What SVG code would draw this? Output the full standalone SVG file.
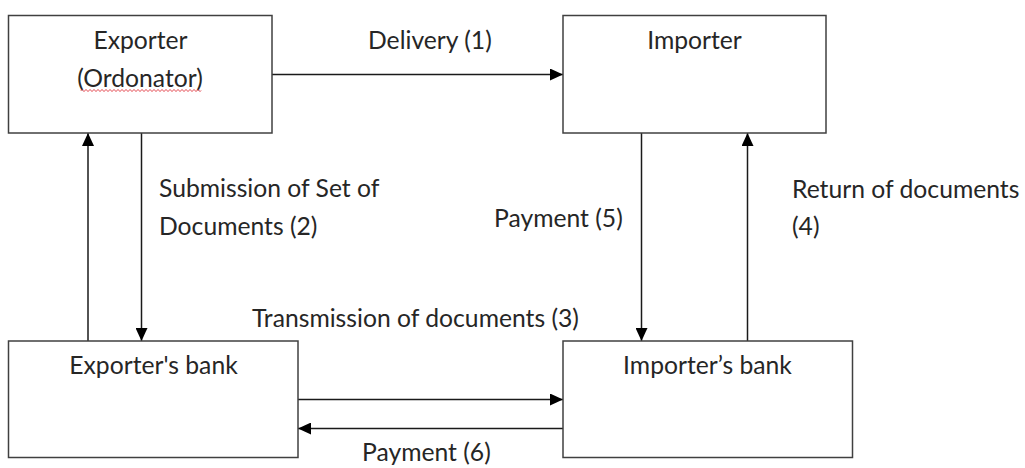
<svg xmlns="http://www.w3.org/2000/svg" width="1025" height="468" viewBox="0 0 1025 468">
<defs>
<style>
.box{fill:#fff;stroke:#404040;stroke-width:1.5}
.lbl{font-family:Lato,"Open Sans","Liberation Sans",sans-serif;font-size:24.7px;fill:#262626}
.mid{text-anchor:middle}
.conn{fill:none;stroke:#1a1a1a;stroke-width:1.5;marker-end:url(#arr)}
</style>
<marker id="arr" viewBox="0 0 13 12" refX="13" refY="6" markerWidth="13" markerHeight="12" markerUnits="userSpaceOnUse" orient="auto">
<path d="M0,0 L13,6 L0,12 z" fill="#000"/>
</marker>
</defs>
<rect width="1025" height="468" fill="#fff"/>
<g id="connectors">
<path class="conn" d="M272,74.5 H563"/>
<path class="conn" d="M88,341 V133"/>
<path class="conn" d="M141.5,133 V341"/>
<path class="conn" d="M641.5,133 V341"/>
<path class="conn" d="M747.5,341 V133"/>
<path class="conn" d="M298,399.5 H563"/>
<path class="conn" d="M563,428.5 H298"/>
<text class="lbl" x="368" y="49">Delivery (1)</text>
<text class="lbl"><tspan x="159" y="197">Submission of Set of</tspan><tspan x="159" y="235">Documents (2)</tspan></text>
<text class="lbl" x="252" y="327">Transmission of documents (3)</text>
<text class="lbl" x="362" y="461">Payment (6)</text>
<text class="lbl" x="494" y="227">Payment (5)</text>
<text class="lbl"><tspan x="792" y="198">Return of documents</tspan><tspan x="792" y="235">(4)</tspan></text>
</g>
<g id="exporter">
<rect class="box" x="8.5" y="15.5" width="263.5" height="117.5"/>
<text class="lbl mid" x="140.5" y="49">Exporter</text>
<text class="lbl mid" x="140" y="87">(Ordonator)</text>
<path d="M81,90.5 q1,-2 2,0 t2,0 t2,0 t2,0 t2,0 t2,0 t2,0 t2,0 t2,0 t2,0 t2,0 t2,0 t2,0 t2,0 t2,0 t2,0 t2,0 t2,0 t2,0 t2,0 t2,0 t2,0 t2,0 t2,0 t2,0 t2,0 t2,0 t2,0 t2,0 t2,0 t2,0 t2,0 t2,0 t2,0 t2,0 t2,0 t2,0 t2,0 t2,0 t2,0 t2,0 t2,0 t2,0 t2,0 t2,0 t2,0 t2,0 t2,0 t2,0 t2,0 t2,0 t2,0 t2,0 t2,0 t2,0 t2,0 t2,0 t2,0 t2,0 t2,0" fill="none" stroke="#e0303a" stroke-width="1"/>
</g>
<g id="importer">
<rect class="box" x="563" y="15.5" width="263" height="117.5"/>
<text class="lbl mid" x="694.5" y="49">Importer</text>
</g>
<g id="exporters-bank">
<rect class="box" x="8.5" y="341" width="289.5" height="116.5"/>
<text class="lbl mid" x="153.5" y="374">Exporter's bank</text>
</g>
<g id="importers-bank">
<rect class="box" x="563" y="341" width="289.5" height="116.5"/>
<text class="lbl mid" x="707.5" y="374">Importer’s bank</text>
</g>
</svg>
